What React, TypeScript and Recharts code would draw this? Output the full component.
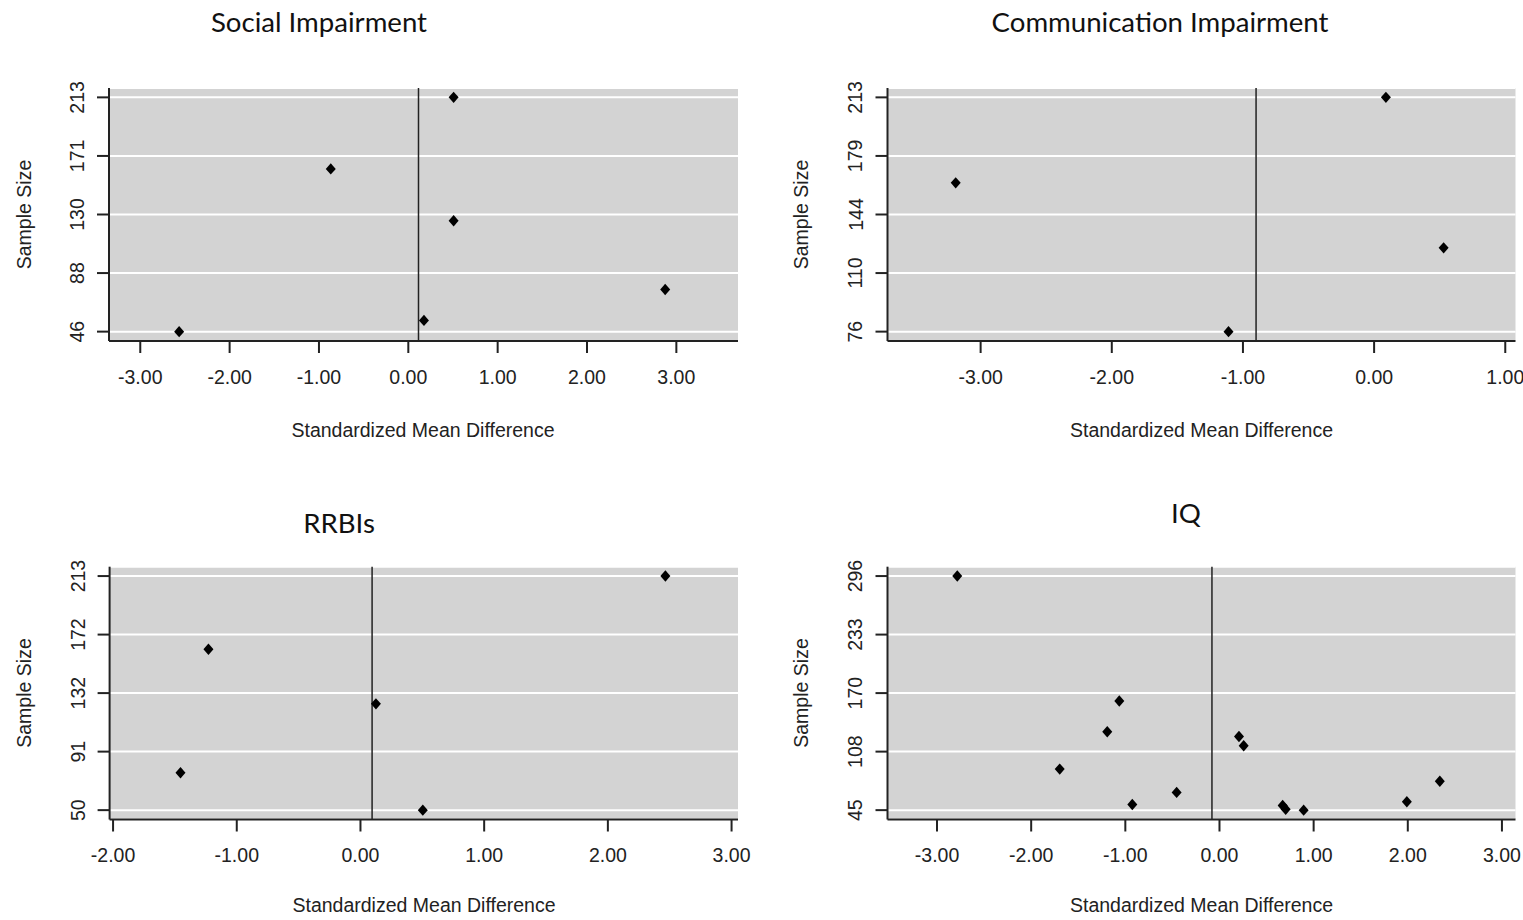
import React from "react";
import {
  ScatterChart,
  Scatter,
  XAxis,
  YAxis,
  CartesianGrid,
  ReferenceLine,
} from "recharts";

// ---------- data ----------
const panelTitles = ["Social Impairment", "Communication Impairment", "RRBIs", "IQ"];
const xAxisTitle = "Standardized Mean Difference";
const yAxisTitle = "Sample Size";

// Social Impairment
const socialSmd = [0.507, -0.868, 0.507, 2.875, 0.175, -2.565];
const socialN = [213, 162, 125, 76, 54, 46];
const socialMean = 0.114;
const socialXTicks = [-3, -2, -1, 0, 1, 2, 3];
const socialYTicks = [46, 87.75, 129.5, 171.25, 213];
const socialYLabels = ["46", "88", "130", "171", "213"];

// Communication Impairment
const commSmd = [0.09, -3.19, 0.53, -1.11];
const commN = [213, 163, 125, 76];
const commMean = -0.9;
const commXTicks = [-3, -2, -1, 0, 1];
const commYTicks = [76, 110.25, 144.5, 178.75, 213];
const commYLabels = ["76", "110", "144", "179", "213"];

// RRBIs
const rrbiSmd = [2.465, -1.229, 0.125, -1.455, 0.504];
const rrbiN = [213, 162, 124, 76, 50];
const rrbiMean = 0.094;
const rrbiXTicks = [-2, -1, 0, 1, 2, 3];
const rrbiYTicks = [50, 90.75, 131.5, 172.25, 213];
const rrbiYLabels = ["50", "91", "132", "172", "213"];

// IQ
const iqSmd = [-2.785, -1.064, -1.192, 0.207, 0.257, -1.697, -0.455, -0.926, 0.671, 0.703, 0.894, 1.99, 2.34];
const iqN = [296, 162, 129, 124, 114, 89, 64, 51, 50, 46, 45, 54, 76];
const iqMean = -0.08;
const iqXTicks = [-3, -2, -1, 0, 1, 2, 3];
const iqYTicks = [45, 107.75, 170.5, 233.25, 296];
const iqYLabels = ["45", "108", "170", "233", "296"];

// ---------- styles ----------
const AXIS_FONT = "'Liberation Sans', Arial, sans-serif";
const TITLE_FONT = "Lato, 'Open Sans', sans-serif";
const FS = 19.5;
const INK = "#222";

function Diamond(props: any) {
  const { cx, cy } = props;
  if (cx == null || cy == null) return null;
  const w = 5;
  const h = 5.7;
  return (
    <polygon
      points={`${cx},${cy - h} ${cx + w},${cy} ${cx},${cy + h} ${cx - w},${cy}`}
      fill="#000"
    />
  );
}

function makeYTick(ticks: number[], labels: string[]) {
  return function YTick(props: any) {
    const { x, y, payload } = props;
    const i = ticks.findIndex((t) => Math.abs(t - payload.value) < 1e-6);
    const label = i >= 0 ? labels[i] : String(payload.value);
    const bx = x - 11;
    return (
      <text
        x={bx}
        y={y}
        transform={`rotate(-90 ${bx} ${y})`}
        textAnchor="middle"
        fontSize={FS}
        fontFamily={AXIS_FONT}
        fill={INK}
      >
        {label}
      </text>
    );
  };
}

type PanelProps = {
  left: number;
  top: number;
  width: number;
  height: number;
  margin: { top: number; right: number; bottom: number; left: number };
  smd: number[];
  n: number[];
  mean: number;
  xDomain: [number, number];
  yDomain: [number, number];
  xTicks: number[];
  yTicks: number[];
  yLabels: string[];
};

function Panel(p: PanelProps) {
  const data = p.smd.map((x, i) => ({ x, y: p.n[i] }));
  const YTick = makeYTick(p.yTicks, p.yLabels);
  return (
    <div style={{ position: "absolute", left: p.left, top: p.top }}>
      <ScatterChart width={p.width} height={p.height} margin={p.margin}>
        <CartesianGrid
          horizontal={true}
          vertical={false}
          stroke="#ffffff"
          strokeWidth={2}
          fill="#d3d3d3"
          fillOpacity={1}
        />
        <XAxis
          type="number"
          dataKey="x"
          domain={p.xDomain}
          allowDataOverflow
          ticks={p.xTicks}
          interval={0}
          tickFormatter={(v: number) => v.toFixed(2)}
          tickSize={12}
          tickMargin={17}
          height={60}
          axisLine={{ stroke: INK, strokeWidth: 2 }}
          tickLine={{ stroke: INK, strokeWidth: 2 }}
          tick={{ fill: INK, fontSize: FS, fontFamily: AXIS_FONT }}
        />
        <YAxis
          type="number"
          dataKey="y"
          domain={p.yDomain}
          allowDataOverflow
          ticks={p.yTicks}
          interval={0}
          tickSize={12}
          tickMargin={2}
          width={60}
          axisLine={{ stroke: INK, strokeWidth: 2 }}
          tickLine={{ stroke: INK, strokeWidth: 2 }}
          tick={<YTick />}
        />
        <ReferenceLine x={p.mean} stroke={INK} strokeWidth={1.5} />
        <Scatter data={data} shape={<Diamond />} isAnimationActive={false} />
      </ScatterChart>
    </div>
  );
}

export default function App() {
  const W = 760;
  const H = 460;
  return (
    <div
      style={{
        position: "absolute",
        left: 0,
        top: 0,
        width: 1523,
        height: 920,
        background: "#fff",
        overflow: "hidden",
      }}
    >
      <Panel
        left={0}
        top={0}
        width={W}
        height={H}
        margin={{ top: 88, right: 22, bottom: 59, left: 49 }}
        smd={socialSmd}
        n={socialN}
        mean={socialMean}
        xDomain={[-3.35, 3.69]}
        yDomain={[39.32, 219.68]}
        xTicks={socialXTicks}
        yTicks={socialYTicks}
        yLabels={socialYLabels}
      />
      <Panel
        left={760}
        top={0}
        width={763}
        height={H}
        margin={{ top: 88, right: 7.5, bottom: 59, left: 67.5 }}
        smd={commSmd}
        n={commN}
        mean={commMean}
        xDomain={[-3.71, 1.078]}
        yDomain={[70.52, 218.48]}
        xTicks={commXTicks}
        yTicks={commYTicks}
        yLabels={commYLabels}
      />
      <Panel
        left={0}
        top={460}
        width={W}
        height={H}
        margin={{ top: 106.7, right: 22, bottom: 40.5, left: 49.6 }}
        smd={rrbiSmd}
        n={rrbiN}
        mean={rrbiMean}
        xDomain={[-2.028, 3.052]}
        yDomain={[43.48, 219.52]}
        xTicks={rrbiXTicks}
        yTicks={rrbiYTicks}
        yLabels={rrbiYLabels}
      />
      <Panel
        left={760}
        top={460}
        width={763}
        height={H}
        margin={{ top: 106.7, right: 7.5, bottom: 40.5, left: 67.5 }}
        smd={iqSmd}
        n={iqN}
        mean={iqMean}
        xDomain={[-3.526, 3.144]}
        yDomain={[34.96, 306.04]}
        xTicks={iqXTicks}
        yTicks={iqYTicks}
        yLabels={iqYLabels}
      />
      <svg
        width={1523}
        height={920}
        style={{ position: "absolute", left: 0, top: 0, pointerEvents: "none" }}
      >
        <g fontFamily={TITLE_FONT} fontSize={27.6} fill="#111" textAnchor="middle">
          <text x={319} y={32}>{panelTitles[0]}</text>
          <text x={1160} y={32}>{panelTitles[1]}</text>
          <text x={339} y={533}>{panelTitles[2]}</text>
          <text x={1186} y={523}>{panelTitles[3]}</text>
        </g>
        <g fontFamily={AXIS_FONT} fontSize={FS} fill={INK} textAnchor="middle">
          <text x={423} y={437}>{xAxisTitle}</text>
          <text x={1201.5} y={437}>{xAxisTitle}</text>
          <text x={424} y={912}>{xAxisTitle}</text>
          <text x={1201.5} y={912}>{xAxisTitle}</text>
          <text x={31} y={214.5} transform="rotate(-90 31 214.5)">{yAxisTitle}</text>
          <text x={808} y={214.5} transform="rotate(-90 808 214.5)">{yAxisTitle}</text>
          <text x={31} y={693} transform="rotate(-90 31 693)">{yAxisTitle}</text>
          <text x={808} y={693} transform="rotate(-90 808 693)">{yAxisTitle}</text>
        </g>
      </svg>
    </div>
  );
}
